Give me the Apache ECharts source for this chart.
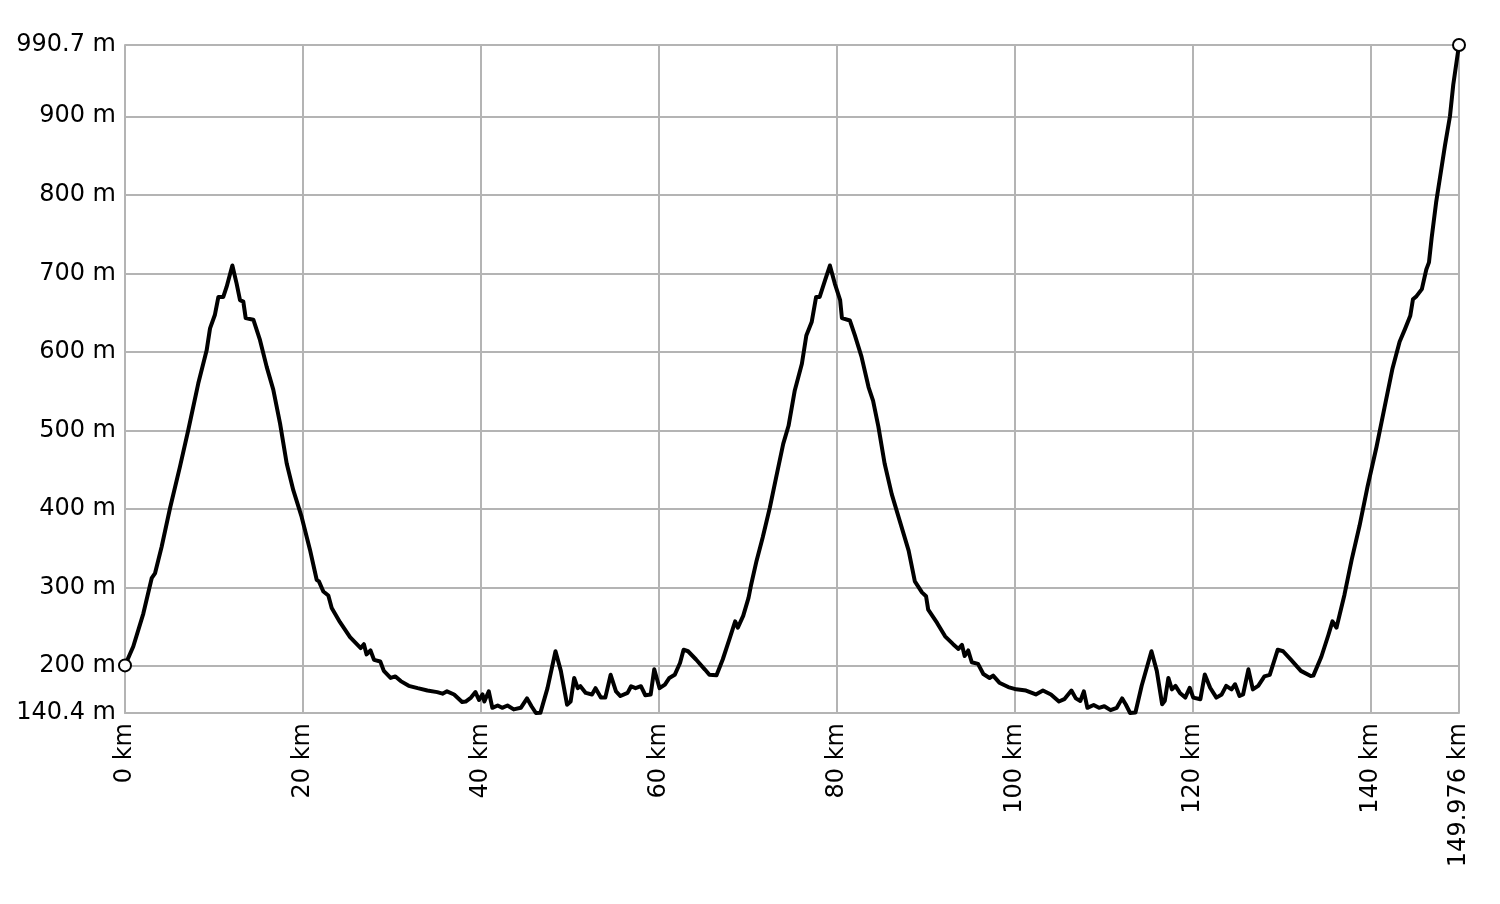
<!DOCTYPE html>
<html>
<head>
<meta charset="utf-8">
<script src="https://cdn.jsdelivr.net/npm/echarts@6/dist/echarts.min.js"></script>
<style>
html,body{margin:0;padding:0;background:#fff;}
#chart{width:1500px;height:904px;}
</style>
</head>
<body>
<div id="chart"></div>
<script>
// Distance along route (km)
var distKm = [0,0.93,2.06,3.0,3.37,4.12,5.06,6.18,7.12,8.24,9.18,9.56,10.1,10.5,11.05,11.43,12.07,12.55,12.93,13.3,13.57,14.43,15.18,15.93,16.67,17.43,18.18,18.92,19.86,20.8,21.55,21.8,22.3,22.86,23.24,24.17,25.3,26.5,26.86,27.16,27.6,28.0,28.7,29.1,29.86,30.4,31.0,31.9,32.9,34.0,35.1,35.7,36.2,37.0,37.9,38.3,38.9,39.4,39.8,40.2,40.4,40.9,41.3,41.9,42.4,43.0,43.7,44.5,45.2,45.7,46.2,46.7,47.5,48.4,49.0,49.7,50.1,50.5,50.9,51.2,51.8,52.5,52.9,53.5,54.0,54.6,55.2,55.7,56.5,56.9,57.4,58.0,58.5,59.1,59.5,60.1,60.7,61.2,61.8,62.4,62.8,63.3,64.2,65.2,65.7,66.5,67.2,68.0,68.6,68.9,69.5,70.1,70.4,71.0,71.7,72.5,73.2,74.0,74.6,75.3,76.1,76.6,77.2,77.7,78.1,78.7,79.25,79.8,80.4,80.6,81.5,82.06,82.8,83.6,84.1,84.7,85.4,86.2,87.1,88.1,88.8,89.6,90.06,90.3,91.3,92.2,93.1,93.7,94.1,94.4,94.8,95.2,95.9,96.5,97.2,97.6,98.3,99.3,100.2,101.3,102.4,103.2,104.1,105.0,105.6,106.4,106.9,107.4,107.8,108.2,108.9,109.5,110.1,110.8,111.5,112.1,112.5,113.0,113.6,114.3,115.4,116.0,116.6,116.9,117.3,117.7,118.1,118.6,119.2,119.7,120.1,120.9,121.4,122.0,122.7,123.3,123.8,124.4,124.8,125.3,125.7,126.3,126.8,127.4,128.1,128.7,129.6,130.2,131.1,132.2,133.3,133.6,134.5,135.3,135.75,136.2,137.1,137.9,138.8,139.7,140.7,141.6,142.5,143.3,143.9,144.5,144.8,145.2,145.8,146.3,146.6,146.9,147.4,147.84,148.4,148.96,149.33,149.976];
// Elevation (m)
var elevM = [201,225,267,312,318,352,401,454,501,560,602,630,647,670,670,683,710,687,666,664,643,641,615,581,552,509,458,424,390,348,310,308,295,290,274,256,237,223,228,215,220,208,206,194,185,187,181,175,172,169,167,165,168,164,154.5,155,160,167,157,164,155,168,147,150,147,150,145,147,159,149,140.4,140.6,172,219,194,151,155,185,172,174.5,166,164,172,160,160,189,168,162,166,174.5,172,174.5,163,164,196,172,176.6,185,189,204,221,219,208.5,195.7,189,188.5,208.5,236,257,249,264,287,304,334,364,402,440,483,506,551,585,621,638,670,670,691,710,687,666,643,640,621,594,555,538,505,458,419,385,347,308,294,289,272,255,238,228,222,227,213,220,205,203,190,185,188,179,173.4,170.5,169,164,169,164,155,158,169,159,155.7,168,147,150.6,147,149,144,147,159,151.5,140.4,141,175,219,194,151.5,156,185,170.5,175,166,160,172.6,160,158,189.5,172.6,160,164,175,170.5,177,162,164,196,170.5,175,187,189,221,219,208,194,187.5,188,212,240,257,249,291,335,379,429,479,529,579,613,629,646,667,671,680,705,714,745,790,822,863,900,940,990.7];
// Tick values
var xTicks = [0,20,40,60,80,100,120,140,149.976];
var yTicks = [140.4,200,300,400,500,600,700,800,900,990.7];

var data = distKm.map(function(d,i){return [d, elevM[i]];});
var lastIdx = data.length - 1;

var chart = echarts.init(document.getElementById('chart'), null, {renderer:'canvas'});
var gridColor = '#b4b4b4';
var font = 'DejaVu Sans, Verdana, sans-serif';
chart.setOption({
  animation:false,
  backgroundColor:'#fff',
  grid:{left:125,right:41,top:45,bottom:191,containLabel:false,outerBoundsMode:'none'},
  xAxis:{
    type:'value',min:0,max:149.976,
    axisLine:{show:true,lineStyle:{color:gridColor,width:2}},
    axisTick:{show:false,customValues:xTicks},
    splitLine:{show:true,lineStyle:{color:gridColor,width:2}},
    axisLabel:{customValues:xTicks,rotate:90,margin:10,color:'#000',fontSize:24,fontFamily:font,
      formatter:function(v){return (Math.abs(v-149.976)<1e-6?'149.976':String(Math.round(v)))+' km';}}
  },
  yAxis:{
    type:'value',min:140.4,max:990.7,
    axisLine:{show:true,lineStyle:{color:gridColor,width:2}},
    axisTick:{show:false,customValues:yTicks},
    splitLine:{show:true,lineStyle:{color:gridColor,width:2}},
    axisLabel:{customValues:yTicks,margin:9,color:'#000',fontSize:24,fontFamily:font,
      formatter:function(v){
        if(Math.abs(v-140.4)<1e-6) return '140.4 m';
        if(Math.abs(v-990.7)<1e-6) return '990.7 m';
        return Math.round(v)+' m';}}
  },
  series:[{
    type:'line',
    data:data,
    clip:false,
    showAllSymbol:true,
    symbol:function(v,p){return (p.dataIndex===0||p.dataIndex===lastIdx)?'emptyCircle':'none';},
    symbolSize:12,
    itemStyle:{color:'#000',borderColor:'#000',borderWidth:2},
    lineStyle:{color:'#000',width:4,join:'round'},
    z:3
  }]
});
</script>
</body>
</html>
